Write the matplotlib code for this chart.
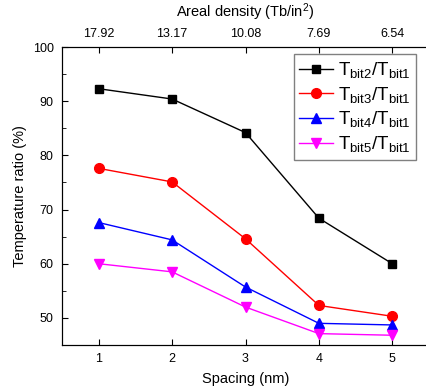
import matplotlib.pyplot as plt
from matplotlib.ticker import MultipleLocator

plt.rcParams['font.family'] = ['Liberation Sans', 'DejaVu Sans']
plt.rcParams['mathtext.fontset'] = 'custom'
plt.rcParams['mathtext.rm'] = 'Liberation Sans'
plt.rcParams['mathtext.it'] = 'Liberation Sans'

spacing = [1, 2, 3, 4, 5]
density_labels = ['17.92', '13.17', '10.08', '7.69', '6.54']
t2 = [92.3, 90.4, 84.2, 68.4, 60.0]
t3 = [77.6, 75.1, 64.6, 52.3, 50.3]
t4 = [67.6, 64.4, 55.7, 49.0, 48.7]
t5 = [60.0, 58.5, 52.0, 47.1, 46.8]

fig = plt.figure(figsize=(4.26, 3.89), dpi=100)
ax = fig.add_axes([62 / 426, 44 / 389, 367 / 426, 298 / 389])

ax.plot(spacing, t2, '-s', color='black', ms=6, lw=1, label=r'$\mathrm{T_{bit2}/T_{bit1}}$')
ax.plot(spacing, t3, '-o', color='red', ms=7, lw=1, label=r'$\mathrm{T_{bit3}/T_{bit1}}$')
ax.plot(spacing, t4, '-^', color='blue', ms=7, lw=1, label=r'$\mathrm{T_{bit4}/T_{bit1}}$')
ax.plot(spacing, t5, '-v', color='magenta', ms=7, lw=1, label=r'$\mathrm{T_{bit5}/T_{bit1}}$')

ax.set_xlim(0.5, 5.5)
ax.set_ylim(45, 100)
ax.set_xticks(spacing)
ax.yaxis.set_major_locator(MultipleLocator(10))
ax.yaxis.set_minor_locator(MultipleLocator(5))
ax.tick_params(direction='in', labelsize=9, length=4, pad=6)
ax.tick_params(which='minor', direction='in', length=3)
ax.set_xlabel('Spacing (nm)', fontsize=10.5, labelpad=5)
ax.set_ylabel('Temperature ratio (%)', fontsize=10.5, labelpad=4)

ax2 = ax.twiny()
ax2.set_xlim(ax.get_xlim())
ax2.set_xticks(spacing)
ax2.set_xticklabels(density_labels)
ax2.tick_params(direction='in', labelsize=9, length=4, pad=5)
ax2.set_xlabel(r'Areal density (Tb/in$^2$)', fontsize=10.5, labelpad=8)

leg = ax.legend(loc='upper right', bbox_to_anchor=(0.965, 0.975), fontsize=13.5,
                handlelength=1.8, handletextpad=0.25, labelspacing=0.25,
                borderpad=0.3, borderaxespad=0, fancybox=False, framealpha=1)
leg.get_frame().set_edgecolor('gray')

fig.savefig('out.png', dpi=100)
